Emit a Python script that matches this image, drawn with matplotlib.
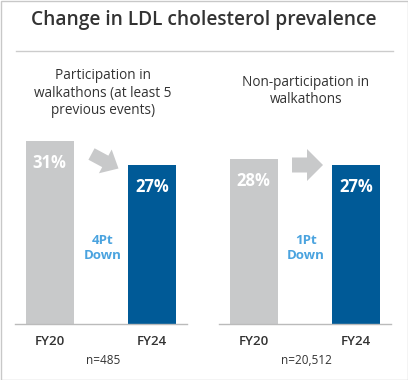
import matplotlib.pyplot as plt
from matplotlib.patches import FancyArrow, Rectangle

plt.rcParams['font.family'] = ['Open Sans', 'DejaVu Sans']

# データ
title = "Change in LDL cholesterol prevalence"
years = ["FY20", "FY24"]
groups = ["Participation in\nwalkathons (at least 5\nprevious events)",
          "Non-participation in\nwalkathons"]
values = [[31, 27], [28, 27]]
changes = ["4Pt\nDown", "1Pt\nDown"]
counts = ["n=485", "n=20,512"]

GRAY = "#c8c9ca"
BLUE = "#005a97"
LIGHT = "#4aa3df"
TEXT = "#333333"

W, H = 408, 380
fig = plt.figure(figsize=(W / 100, H / 100), dpi=100)


def frac(x0, y0, x1, y1):
    # pixel box (top-left origin) -> figure fraction rect
    return [x0 / W, 1 - y1 / H, (x1 - x0) / W, (y1 - y0) / H]


# 棒グラフ
panel_left = [15, 219]
for i in range(2):
    x0 = panel_left[i]
    ax = fig.add_axes(frac(x0, 324 - 40 * 5.9, x0 + 172, 324))
    ax.bar([0, 1], values[i], width=0.47, color=[GRAY, BLUE], zorder=2)
    ax.set_xlim(-0.34, 1.34)
    ax.set_ylim(0, 40)
    for s in ["top", "left", "right"]:
        ax.spines[s].set_visible(False)
    ax.spines["bottom"].set_color("#bbbbbb")
    ax.spines["bottom"].set_linewidth(1)
    ax.set_yticks([])
    ax.set_xticks([0, 1], years)
    ax.tick_params(axis="x", length=0, pad=8, labelsize=9.5, labelcolor=TEXT)
    for lab in ax.get_xticklabels():
        lab.set_fontweight("semibold")
    for j, v in enumerate(values[i]):
        ax.annotate(f"{v}%", (j, v), xytext=(0, -16), textcoords="offset points",
                    ha="center", va="center", color="white", fontsize=12,
                    fontweight="bold")

# 文字・矢印用キャンバス
cv = fig.add_axes([0, 0, 1, 1], facecolor="none", zorder=5)
cv.set_xlim(0, W)
cv.set_ylim(H, 0)
cv.axis("off")

cv.add_patch(Rectangle((0.5, 0.5), W - 1, H - 1, fill=False, ec="#c8c8c8", lw=1))
cv.text(W / 2, 20, title, ha="center", va="center", fontsize=13.8,
        fontweight="semibold", color=TEXT)
cv.plot([16, 393], [51, 51], color="#cccccc", lw=1)

sub_y = [93, 91]
centers = [103, 306]
for i in range(2):
    cv.text(centers[i], sub_y[i], groups[i], ha="center", va="center",
            fontsize=9.8, color=TEXT, linespacing=1.25)
    cv.text(centers[i], 248, changes[i], ha="center", va="center",
            fontsize=9.5, fontweight="bold", color=LIGHT, linespacing=1.2)
    cv.text(centers[i], 360, counts[i], ha="center", va="center",
            fontsize=8.5, color=TEXT)

cv.add_patch(FancyArrow(91.5, 154, 27, 14.5, width=13, head_width=27,
                        head_length=15, length_includes_head=True,
                        color=GRAY, lw=0))
cv.add_patch(FancyArrow(292, 165, 31, 0, width=15, head_width=32,
                        head_length=16, length_includes_head=True,
                        color=GRAY, lw=0))

fig.savefig("out.png", dpi=100)
